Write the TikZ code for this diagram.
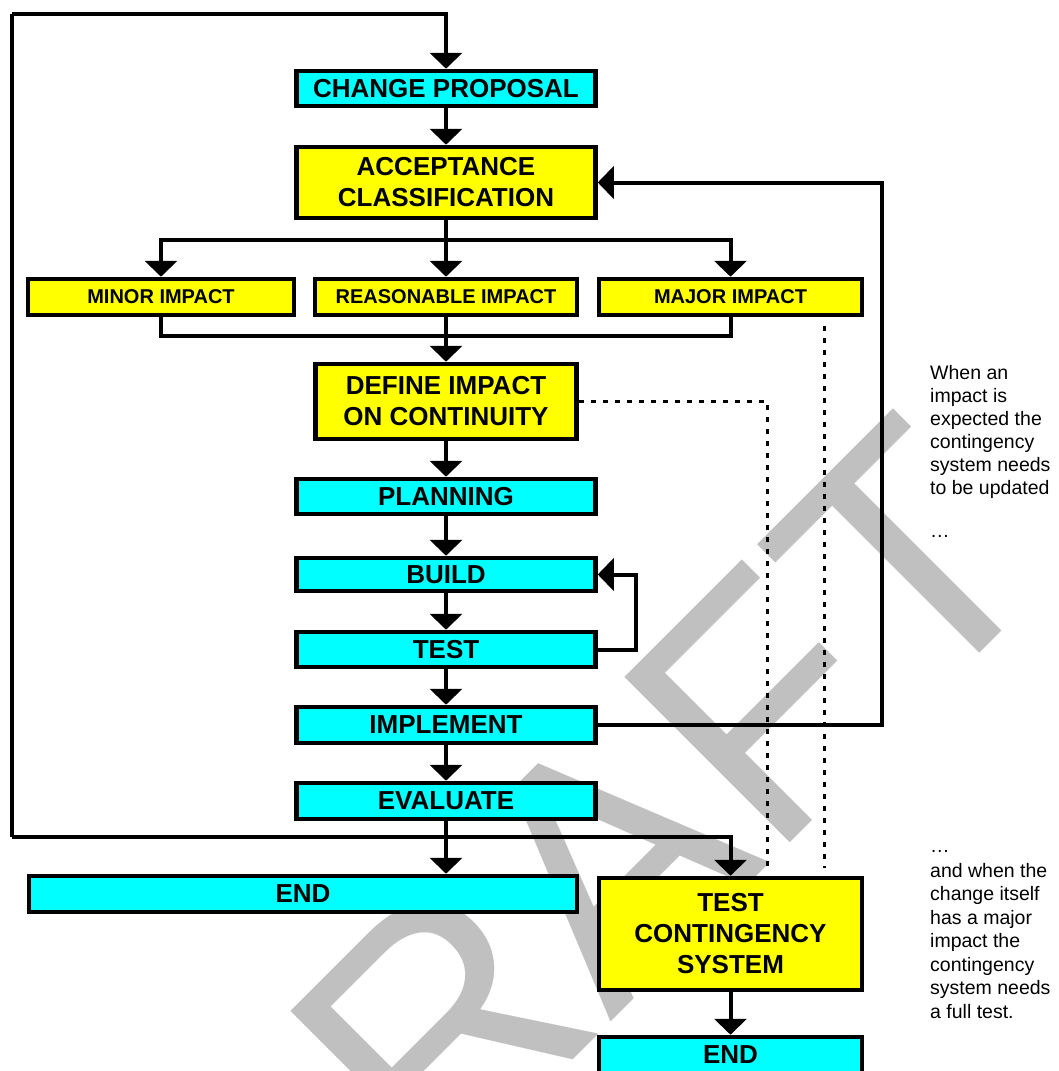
\documentclass[tikz,border=0pt]{standalone}
\usepackage{fontspec}
\setmainfont{Liberation Sans}
\usetikzlibrary{arrows.meta}
\definecolor{boxcyan}{RGB}{0,255,255}
\definecolor{boxyellow}{RGB}{255,255,0}
\definecolor{wmgray}{RGB}{192,192,192}
\begin{document}
\begin{tikzpicture}[x=1pt,y=-1pt,
  box/.style={draw=black, line width=4.5pt, inner sep=0pt, align=center,
    font=\bfseries\fontsize{26}{31}\selectfont},
  cyanbox/.style={box, fill=boxcyan},
  yelbox/.style={box, fill=boxyellow},
  smallbox/.style={yelbox, font=\bfseries\fontsize{20}{24}\selectfont},
  conn/.style={line width=4pt, -{Triangle[width=32pt,length=16pt]}},
  link/.style={line width=4pt},
  dotlink/.style={line width=3pt, dash pattern=on 5pt off 7pt},
  note/.style={anchor=base west, inner sep=0pt, font=\fontsize{19.5}{23}\selectfont}]
\useasboundingbox (0,0) rectangle (1059,1071);
\fill[white] (0,0) rectangle (1059,1071);
% watermark
\node[font=\fontsize{340}{340}\selectfont, text=wmgray, rotate=45, anchor=base west, inner sep=0pt] (draft) at (263,1370) {DRAFT};
% boxes
\node[cyanbox, minimum width=299, minimum height=35] (cp) at (446,88.5) {CHANGE PROPOSAL};
\node[yelbox, minimum width=299, minimum height=71] (ac) at (446,182.5) {ACCEPTANCE\\CLASSIFICATION};
\node[smallbox, minimum width=266, minimum height=36] (minor) at (161,297) {MINOR IMPACT};
\node[smallbox, minimum width=262, minimum height=36] (reas) at (446,297) {REASONABLE IMPACT};
\node[smallbox, minimum width=263, minimum height=36] (major) at (730.5,297) {MAJOR IMPACT};
\node[yelbox, minimum width=261, minimum height=75] (def) at (446,401.5) {DEFINE IMPACT\\ON CONTINUITY};
\node[cyanbox, minimum width=299, minimum height=35] (plan) at (446,496.5) {PLANNING};
\node[cyanbox, minimum width=299, minimum height=33] (build) at (446,574.5) {BUILD};
\node[cyanbox, minimum width=299, minimum height=35] (test) at (446,649.5) {TEST};
\node[cyanbox, minimum width=299, minimum height=36] (impl) at (446,725) {IMPLEMENT};
\node[cyanbox, minimum width=299, minimum height=36] (ev) at (446,801) {EVALUATE};
\node[cyanbox, minimum width=548, minimum height=36] (end1) at (303,894) {END};
\node[yelbox, minimum width=263, minimum height=112] (tcs) at (730.5,934) {TEST\\CONTINGENCY\\SYSTEM};
\node[cyanbox, minimum width=263, minimum height=36] (end2) at (730.5,1055) {END};
% helper coordinates
\coordinate (tl) at (12,14);
\coordinate (bl) at (12,837);
\coordinate (split) at (446,240);
\coordinate (join) at (446,336);
\coordinate (tbx) at (636,0);
\coordinate (rlx) at (882,0);
\coordinate (dx1) at (767,0);
\coordinate (dx2) at (824,0);
% connectors
\draw[link] (bl) -- (tl);
\draw[conn] (tl) -- (tl -| cp.north) -- (cp.north);
\draw[conn] (bl) -| (tcs.north);
\draw[conn] (ev.south) -- (ev.south |- end1.north);
\draw[conn] (cp.south) -- (ac.north);
\draw[link] (ac.south) -- (split);
\draw[conn] (split) -| (minor.north);
\draw[conn] (split) -| (major.north);
\draw[conn] (split) -- (reas.north);
\draw[link] (minor.south) |- (join);
\draw[link] (major.south) |- (join);
\draw[link] (reas.south) -- (join);
\draw[conn] (join) -- (def.north);
\draw[conn] (def.south) -- (plan.north);
\draw[conn] (plan.south) -- (build.north);
\draw[conn] (build.south) -- (test.north);
\draw[conn] (test.south) -- (impl.north);
\draw[conn] (impl.south) -- (ev.north);
\draw[conn] (tcs.south) -- (end2.north);
\draw[conn] (test.east) -- (test.east -| tbx) -- (build.east -| tbx) -- (build.east);
\draw[conn] (impl.east) -- (impl.east -| rlx) -- (ac.east -| rlx) -- (ac.east);
\draw[dotlink] (def.east) -- (def.east -| dx1) -- ([yshift=8pt]tcs.north -| dx1);
\draw[dotlink] ([yshift=-9pt]major.south -| dx2) -- ([yshift=8pt]tcs.north -| dx2);
% notes
\node[note] (n1) at (930,379) {When an};
\node[note] (n2) at (930,402) {impact is};
\node[note] (n3) at (930,425) {expected the};
\node[note] (n4) at (930,448) {contingency};
\node[note] (n5) at (930,471) {system needs};
\node[note] (n6) at (930,494) {to be updated};
\node[note] (n7) at (930,537) {…};
\node[note] (m0) at (930,852) {…};
\node[note] (m1) at (930,877) {and when the};
\node[note] (m2) at (930,900.5) {change itself};
\node[note] (m3) at (930,924) {has a major};
\node[note] (m4) at (930,947.5) {impact the};
\node[note] (m5) at (930,971) {contingency};
\node[note] (m6) at (930,994.5) {system needs};
\node[note] (m7) at (930,1018) {a full test.};
\end{tikzpicture}
\end{document}
